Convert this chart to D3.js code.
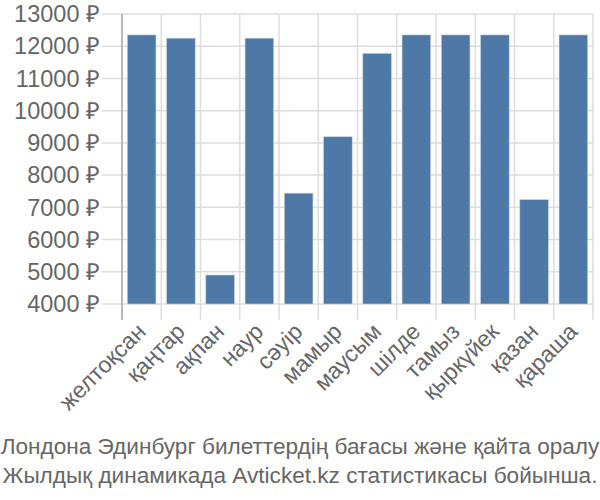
<!DOCTYPE html>
<html><head><meta charset="utf-8">
<script src="https://cdn.jsdelivr.net/npm/d3@7"></script>
<style>body{margin:0;background:#fff}svg{display:block}text{font-family:"Liberation Sans",Arial,sans-serif;fill:#666}</style>
</head><body><svg id="c" width="600" height="500"></svg>
<script>
const categories = ["желтоқсан","қаңтар","ақпан","наур","сәуір","мамыр","маусым","шілде","тамыз","қыркүйек","қазан","қараша"];
const values = [12350, 12250, 4900, 12250, 7440, 9190, 11780, 12350, 12350, 12350, 7240, 12350];
const yTicks = [4000,5000,6000,7000,8000,9000,10000,11000,12000,13000];
const titleLines = ["Лондона Эдинбург билеттердің бағасы және қайта оралу","Жылдық динамикада Avticket.kz статистикасы бойынша."];

const svg = d3.select("#c");
const m = {left:122, right:593, top:14, bottom:304};
const x = d3.scaleBand().domain(categories).range([m.left, m.right]).paddingInner(0.27).paddingOuter(0.135);
const xg = d3.scaleBand().domain(categories).range([m.left, m.right]).padding(0);
const y = d3.scaleLinear().domain([4000,13000]).range([m.bottom, m.top]);

svg.append("g").selectAll("line").data(yTicks).join("line")
  .attr("x1", m.left-20).attr("x2", m.right).attr("y1", d=>y(d)).attr("y2", d=>y(d))
  .attr("stroke","#ddd").attr("stroke-width",1.5);
const vx = categories.map(c=>xg(c)+xg.bandwidth()).concat([m.left]);
svg.append("g").selectAll("line").data(vx).join("line")
  .attr("x1", d=>d).attr("x2", d=>d).attr("y1", m.top).attr("y2", m.bottom+16)
  .attr("stroke","#ddd").attr("stroke-width",1.5);
svg.append("line").attr("x1",m.left).attr("x2",m.left).attr("y1",m.top).attr("y2",m.bottom+16)
  .attr("stroke","#aaa").attr("stroke-width",1.5);

svg.append("g").selectAll("rect").data(values).join("rect")
  .attr("x",(d,i)=>x(categories[i])).attr("width",x.bandwidth())
  .attr("y",d=>y(d)).attr("height",d=>y(4000)-y(d))
  .attr("fill","#4e79a7").attr("stroke","#c8d3e2").attr("stroke-width",0.6);

svg.append("g").selectAll("text").data(yTicks).join("text")
  .attr("x", m.left-22).attr("y", d=>y(d)).attr("dy","0.35em")
  .attr("text-anchor","end").attr("font-size",23.5).text(d=>d+" ₽");

svg.append("g").selectAll("text").data(categories).join("text")
  .attr("transform", d=>`translate(${x(d)+x.bandwidth()/2+5.5},${m.bottom+29}) rotate(-45)`)
  .attr("text-anchor","end").attr("font-size",23).text(d=>d);

svg.append("g").selectAll("text").data(titleLines).join("text")
  .attr("x",300).attr("y",(d,i)=>454+i*29).attr("text-anchor","middle").attr("font-size",22.6).text(d=>d);
</script></body></html>
